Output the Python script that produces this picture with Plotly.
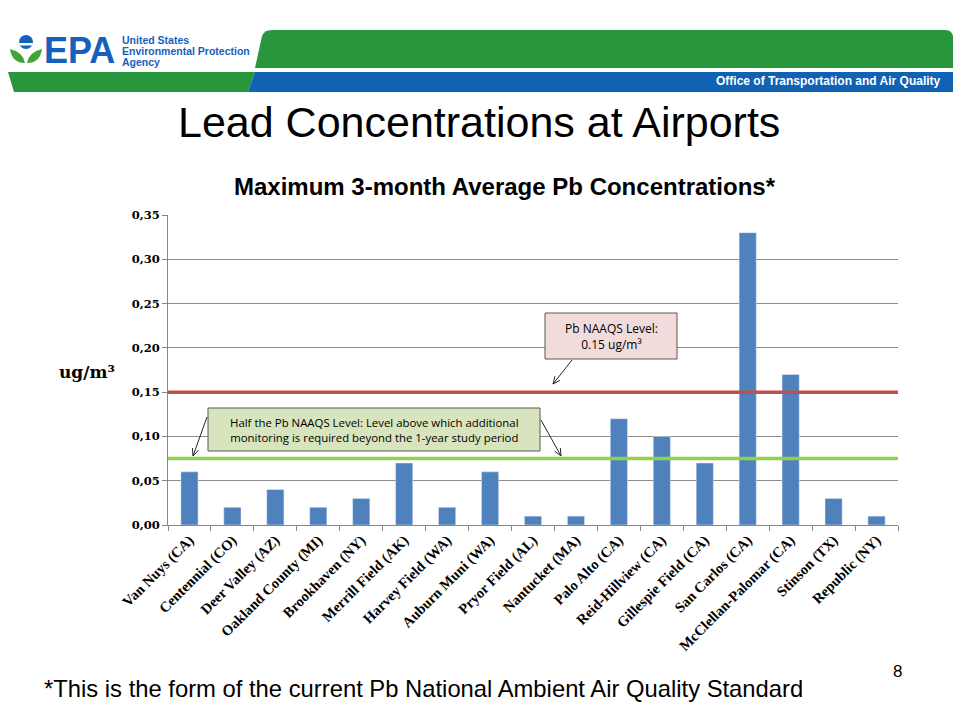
import math
import plotly.graph_objects as go

airports = ["Van Nuys (CA)", "Centennial (CO)", "Deer Valley (AZ)", "Oakland County (MI)",
            "Brookhaven (NY)", "Merrill Field (AK)", "Harvey Field (WA)", "Auburn Muni (WA)",
            "Pryor Field (AL)", "Nantucket (MA)", "Palo Alto (CA)", "Reid-Hillview (CA)",
            "Gillespie Field (CA)", "San Carlos (CA)", "McClellan-Palomar (CA)", "Stinson (TX)",
            "Republic (NY)"]
pb_max = [0.06, 0.02, 0.04, 0.02, 0.03, 0.07, 0.02, 0.06, 0.01, 0.01,
          0.12, 0.10, 0.07, 0.33, 0.17, 0.03, 0.01]
naaqs_level = 0.15
half_naaqs = 0.075
y_ticks = [0.0, 0.05, 0.10, 0.15, 0.20, 0.25, 0.30, 0.35]

W, H = 960, 720
L, R, T, B = 168, 898, 215, 525


def px(x):
    return (x - L) / (R - L)


def py(y):
    return (B - y) / (B - T)


fig = go.Figure()
fig.add_trace(go.Bar(x=airports, y=pb_max, marker_color="#4F81BD", width=0.4,
                     hoverinfo="x+y"))

shapes = []
annots = []

# reference lines
shapes.append(dict(type="line", xref="paper", yref="y", x0=0, x1=1, y0=naaqs_level, y1=naaqs_level,
                   line=dict(color="#C0504D", width=3.5), layer="above"))
shapes.append(dict(type="line", xref="paper", yref="y", x0=0, x1=1, y0=half_naaqs, y1=half_naaqs,
                   line=dict(color="#92D050", width=3.5), layer="above"))

# header graphics
green = "#27963C"
blue = "#1161B5"


def path(points, close=True):
    s = "M " + " L ".join(f"{px(x)},{py(y)}" for x, y in points)
    return s + (" Z" if close else "")


def arrow(x0, y0, x1, y1, color="#262626"):
    shapes.append(dict(type="line", xref="paper", yref="paper",
                       x0=px(x0), y0=py(y0), x1=px(x1), y1=py(y1),
                       line=dict(color=color, width=1), layer="above"))
    ang = math.atan2(y0 - y1, x0 - x1)
    hl = 8
    pa = (x1 + hl * math.cos(ang + 0.42), y1 + hl * math.sin(ang + 0.42))
    pb = (x1 + hl * math.cos(ang - 0.42), y1 + hl * math.sin(ang - 0.42))
    shapes.append(dict(type="path", xref="paper", yref="paper",
                       path=path([pa, (x1, y1), pb], close=False),
                       line=dict(color=color, width=1), layer="above"))


top = "M {},{} L {},{} Q {},{} {},{} L {},{} Q {},{} {},{} L {},{} Z".format(
    px(255), py(68), px(262), py(36), px(264), py(30), px(272), py(30),
    px(945), py(30), px(953), py(30), px(953), py(38), px(953), py(68))
shapes.append(dict(type="path", xref="paper", yref="paper", path=top, fillcolor=green,
                   line=dict(width=0), layer="above"))
shapes.append(dict(type="path", xref="paper", yref="paper",
                   path=path([(8, 72), (255, 72), (248, 92), (14, 92)]),
                   fillcolor=green, line=dict(width=0), layer="above"))
shapes.append(dict(type="path", xref="paper", yref="paper",
                   path=path([(255, 72), (953, 72), (953, 92), (248, 92)]),
                   fillcolor=blue, line=dict(width=0), layer="above"))

# EPA flower logo
shapes.append(dict(type="circle", xref="paper", yref="paper",
                   x0=px(19), x1=px(33), y0=py(35), y1=py(49), fillcolor="#1560BD",
                   line=dict(width=0), layer="above"))
shapes.append(dict(type="path", xref="paper", yref="paper",
                   path=path([(18, 43), (34, 43), (32, 45.5), (20, 45.5)]),
                   fillcolor="white", line=dict(width=0), layer="above"))
shapes.append(dict(type="path", xref="paper", yref="paper",
                   path="M {},{} Q {},{} {},{} Q {},{} {},{} Z".format(
                       px(10), py(49), px(12), py(63), px(25), py(63),
                       px(23), py(52), px(10), py(49)),
                   fillcolor="#3FA535", line=dict(width=0), layer="above"))
shapes.append(dict(type="path", xref="paper", yref="paper",
                   path="M {},{} Q {},{} {},{} Q {},{} {},{} Z".format(
                       px(42), py(49), px(40), py(63), px(27), py(63),
                       px(29), py(52), px(42), py(49)),
                   fillcolor="#3FA535", line=dict(width=0), layer="above"))
annots.append(dict(x=px(42), y=py(50), xref="paper", yref="paper", text="<b>EPA</b>",
                   showarrow=False, xanchor="left", yanchor="middle",
                   font=dict(family="Liberation Sans, Arial", size=36, color="#1560BD")))
for i, line in enumerate(["United States", "Environmental Protection", "Agency"]):
    annots.append(dict(x=px(120), y=py(40 + i * 11), xref="paper", yref="paper",
                       text=f"<b>{line}</b>", showarrow=False, xanchor="left", yanchor="middle",
                       font=dict(family="Liberation Sans, Arial", size=10.5, color="#1560BD")))
annots.append(dict(x=px(943), y=py(81), xref="paper", yref="paper",
                   text="<b>Office of Transportation and Air Quality</b>", showarrow=False,
                   xanchor="right", yanchor="middle",
                   font=dict(family="Liberation Sans, Arial", size=12, color="white")))

# slide title and chart title
annots.append(dict(x=px(479), y=py(122), xref="paper", yref="paper",
                   text="Lead Concentrations at Airports", showarrow=False,
                   xanchor="center", yanchor="middle",
                   font=dict(family="Liberation Sans, Arial", size=43, color="black")))
annots.append(dict(x=px(505), y=py(186), xref="paper", yref="paper",
                   text="<b>Maximum 3-month Average Pb Concentrations*</b>", showarrow=False,
                   xanchor="center", yanchor="middle",
                   font=dict(family="Liberation Sans, Arial", size=24, color="black")))
annots.append(dict(x=px(87), y=py(372), xref="paper", yref="paper",
                   text="<b>ug/m³</b>", showarrow=False,
                   xanchor="center", yanchor="middle",
                   font=dict(family="DejaVu Serif, Liberation Serif", size=17, color="black")))
annots.append(dict(x=px(42), y=py(688), xref="paper", yref="paper",
                   text="*This is the form of the current Pb National Ambient Air Quality Standard",
                   showarrow=False, xanchor="left", yanchor="middle",
                   font=dict(family="Liberation Sans, Arial", size=23.8, color="black")))
annots.append(dict(x=px(897), y=py(671), xref="paper", yref="paper", text="8",
                   showarrow=False, xanchor="center", yanchor="middle",
                   font=dict(family="Liberation Sans, Arial", size=17, color="black")))

# callout boxes
shapes.append(dict(type="rect", xref="paper", yref="paper", x0=px(545), x1=px(677),
                   y0=py(313), y1=py(359), fillcolor="#F2DCDB",
                   line=dict(color="#595959", width=1), layer="above"))
annots.append(dict(x=px(611), y=py(336), xref="paper", yref="paper",
                   text="Pb NAAQS Level:<br>0.15 ug/m³", showarrow=False,
                   xanchor="center", yanchor="middle",
                   font=dict(family="Open Sans, Liberation Sans", size=12, color="black")))
arrow(572, 360, 553, 384)

shapes.append(dict(type="rect", xref="paper", yref="paper", x0=px(208), x1=px(540),
                   y0=py(408), y1=py(451), fillcolor="#D7E4BD",
                   line=dict(color="#595959", width=1), layer="above"))
annots.append(dict(x=px(374), y=py(429.5), xref="paper", yref="paper",
                   text="Half the Pb NAAQS Level: Level above which additional<br>"
                        "monitoring is required beyond the 1-year study period",
                   showarrow=False, xanchor="center", yanchor="middle",
                   font=dict(family="Open Sans, Liberation Sans", size=11.4, color="black")))
arrow(207, 417, 193, 456)
arrow(541, 420, 561, 456)

fig.update_layout(
    width=W, height=H,
    margin=dict(l=L, r=W - R, t=T, b=H - B, pad=0),
    paper_bgcolor="white", plot_bgcolor="white",
    showlegend=False,
    separators=",.",
    shapes=shapes, annotations=annots,
)
fig.update_xaxes(
    type="category", range=[-0.5, len(airports) - 0.5],
    showline=True, linecolor="#868686", linewidth=1,
    ticks="outside", tickson="boundaries", ticklen=5, tickcolor="#868686",
    tickangle=-45, showgrid=False,
    tickfont=dict(family="Liberation Serif, DejaVu Serif", size=14.5, color="black",
                  weight="bold"),
)
fig.update_yaxes(
    range=[0, 0.35], tickvals=y_ticks, tickformat=".2f",
    showline=True, linecolor="#868686", linewidth=1,
    ticks="outside", ticklen=5, tickcolor="#868686",
    showgrid=True, gridcolor="#8C8C8C", gridwidth=1, zeroline=False,
    tickfont=dict(family="DejaVu Serif, Liberation Serif", size=11.5, color="black",
                  weight="bold"),
)

fig.write_html("out.html", config={"displayModeBar": False},
               post_script="document.body.style.margin='0px';")
